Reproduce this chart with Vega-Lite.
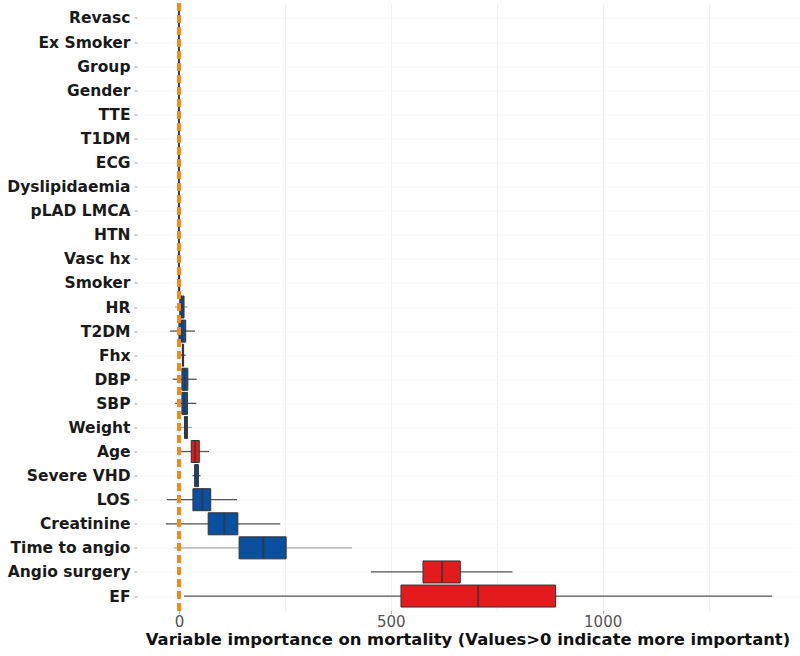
{
  "$schema": "https://vega.github.io/schema/vega-lite/v6.json",
  "width": 661,
  "height": 607,
  "autosize": {"type": "none"},
  "padding": {"left": 137, "top": 3.5, "right": 2, "bottom": 45.5},
  "background": "white",
  "config": {"view": {"stroke": null}, "font": "DejaVu Sans"},
  "data": {
    "values": [
      {"variable": "Revasc", "lower": -1, "q1": -0.5, "median": 0, "q3": 0.5, "upper": 1, "decision": "Other"},
      {"variable": "Ex Smoker", "lower": -1, "q1": -0.5, "median": 0, "q3": 0.5, "upper": 1, "decision": "Other"},
      {"variable": "Group", "lower": -1, "q1": -0.5, "median": 0, "q3": 0.5, "upper": 1, "decision": "Other"},
      {"variable": "Gender", "lower": -1, "q1": -0.5, "median": 0, "q3": 0.5, "upper": 1, "decision": "Other"},
      {"variable": "TTE", "lower": -1, "q1": -0.5, "median": 0, "q3": 0.5, "upper": 1, "decision": "Other"},
      {"variable": "T1DM", "lower": -1, "q1": -0.5, "median": 0, "q3": 0.5, "upper": 1, "decision": "Other"},
      {"variable": "ECG", "lower": -1, "q1": -0.5, "median": 0, "q3": 0.5, "upper": 1, "decision": "Other"},
      {"variable": "Dyslipidaemia", "lower": -1, "q1": -0.5, "median": 0, "q3": 0.5, "upper": 1, "decision": "Other"},
      {"variable": "pLAD LMCA", "lower": -1, "q1": -0.5, "median": 0, "q3": 0.5, "upper": 1, "decision": "Other"},
      {"variable": "HTN", "lower": -1, "q1": -0.5, "median": 0, "q3": 0.5, "upper": 1, "decision": "Other"},
      {"variable": "Vasc hx", "lower": -1, "q1": -0.5, "median": 0, "q3": 0.5, "upper": 1, "decision": "Other"},
      {"variable": "Smoker", "lower": -1, "q1": -0.5, "median": 0.5, "q3": 1.5, "upper": 4, "decision": "Other"},
      {"variable": "HR", "lower": -9, "q1": 2, "median": 7, "q3": 12, "upper": 21, "decision": "Other"},
      {"variable": "T2DM", "lower": -21, "q1": 0, "median": 8, "q3": 16, "upper": 38, "decision": "Other"},
      {"variable": "Fhx", "lower": 2, "q1": 8, "median": 9.5, "q3": 11, "upper": 16, "decision": "Other"},
      {"variable": "DBP", "lower": -15, "q1": 7, "median": 14, "q3": 21, "upper": 42, "decision": "Other"},
      {"variable": "SBP", "lower": -9, "q1": 7, "median": 13, "q3": 20, "upper": 41, "decision": "Other"},
      {"variable": "Weight", "lower": 0, "q1": 13, "median": 16, "q3": 20, "upper": 31, "decision": "Other"},
      {"variable": "Age", "lower": 5, "q1": 29, "median": 38, "q3": 48, "upper": 71, "decision": "Important"},
      {"variable": "Severe VHD", "lower": 32, "q1": 37, "median": 41, "q3": 46, "upper": 51, "decision": "Other"},
      {"variable": "LOS", "lower": -28, "q1": 33, "median": 55, "q3": 75, "upper": 137, "decision": "Other"},
      {"variable": "Creatinine", "lower": -31, "q1": 69, "median": 107, "q3": 139, "upper": 239, "decision": "Other"},
      {"variable": "Time to angio", "lower": -12, "q1": 142, "median": 199, "q3": 253, "upper": 408, "decision": "Other"},
      {"variable": "Angio surgery", "lower": 453, "q1": 576, "median": 621, "q3": 664, "upper": 787, "decision": "Important"},
      {"variable": "EF", "lower": 12, "q1": 524, "median": 706, "q3": 889, "upper": 1400, "decision": "Important"}
    ]
  },
  "layer": [
    {
      "mark": {"type": "rule", "strokeWidth": 1.3},
      "encoding": {
        "y": {
          "field": "variable", "type": "nominal", "sort": null,
          "scale": {"type": "point", "padding": 0.6},
          "axis": {
            "title": null, "domain": false, "ticks": true, "tickSize": 3, "tickColor": "#9a9a9a",
            "labelFont": "DejaVu Sans", "labelFontWeight": "bold", "labelFontSize": 15.5,
            "labelColor": "#1a1a1a", "labelPadding": 4, "grid": true, "gridColor": "#f8f8f8"
          }
        },
        "x": {
          "field": "lower", "type": "quantitative",
          "scale": {"domain": [-99, 1461], "nice": false, "zero": false},
          "axis": {
            "values": [0, 250, 500, 750, 1000, 1250],
            "format": "d",
            "labelExpr": "datum.value % 500 == 0 ? datum.label : ''",
            "ticks": true, "tickSize": 3, "tickColor": "#b0b0b0",
            "tickOpacity": {"condition": {"test": "datum.value % 500 != 0", "value": 0}, "value": 1},
            "domain": false,
            "grid": true, "gridColor": "#f1f1f1",
            "labelFontSize": 15, "labelColor": "#555555", "labelPadding": 1,
            "title": "Variable importance on mortality (Values>0 indicate more important)",
            "titleFont": "DejaVu Sans", "titleFontWeight": "bold", "titleFontSize": 16.4,
            "titleColor": "#111111", "titlePadding": 2
          }
        },
        "x2": {"field": "upper"},
        "color": {
          "condition": {"test": "indexof(['HR','Weight','Time to angio'], datum.variable) >= 0", "value": "#a8a8a8"},
          "value": "#555555"
        }
      }
    },
    {
      "mark": {"type": "bar", "size": 22, "stroke": "#333333", "strokeWidth": 1},
      "encoding": {
        "y": {"field": "variable", "type": "nominal", "sort": null},
        "x": {"field": "q1", "type": "quantitative"},
        "x2": {"field": "q3"},
        "fill": {
          "field": "decision", "type": "nominal",
          "scale": {"domain": ["Important", "Other"], "range": ["#e31b1d", "#0b4f9f"]},
          "legend": null
        }
      }
    },
    {
      "mark": {"type": "tick", "size": 22, "thickness": 2, "color": "#333333"},
      "encoding": {
        "y": {"field": "variable", "type": "nominal", "sort": null},
        "x": {"field": "median", "type": "quantitative"}
      }
    },
    {
      "mark": {"type": "rule", "color": "#f28a1e", "strokeWidth": 2.5, "strokeDash": [7, 5]},
      "encoding": {"x": {"datum": 0}}
    }
  ]
}
